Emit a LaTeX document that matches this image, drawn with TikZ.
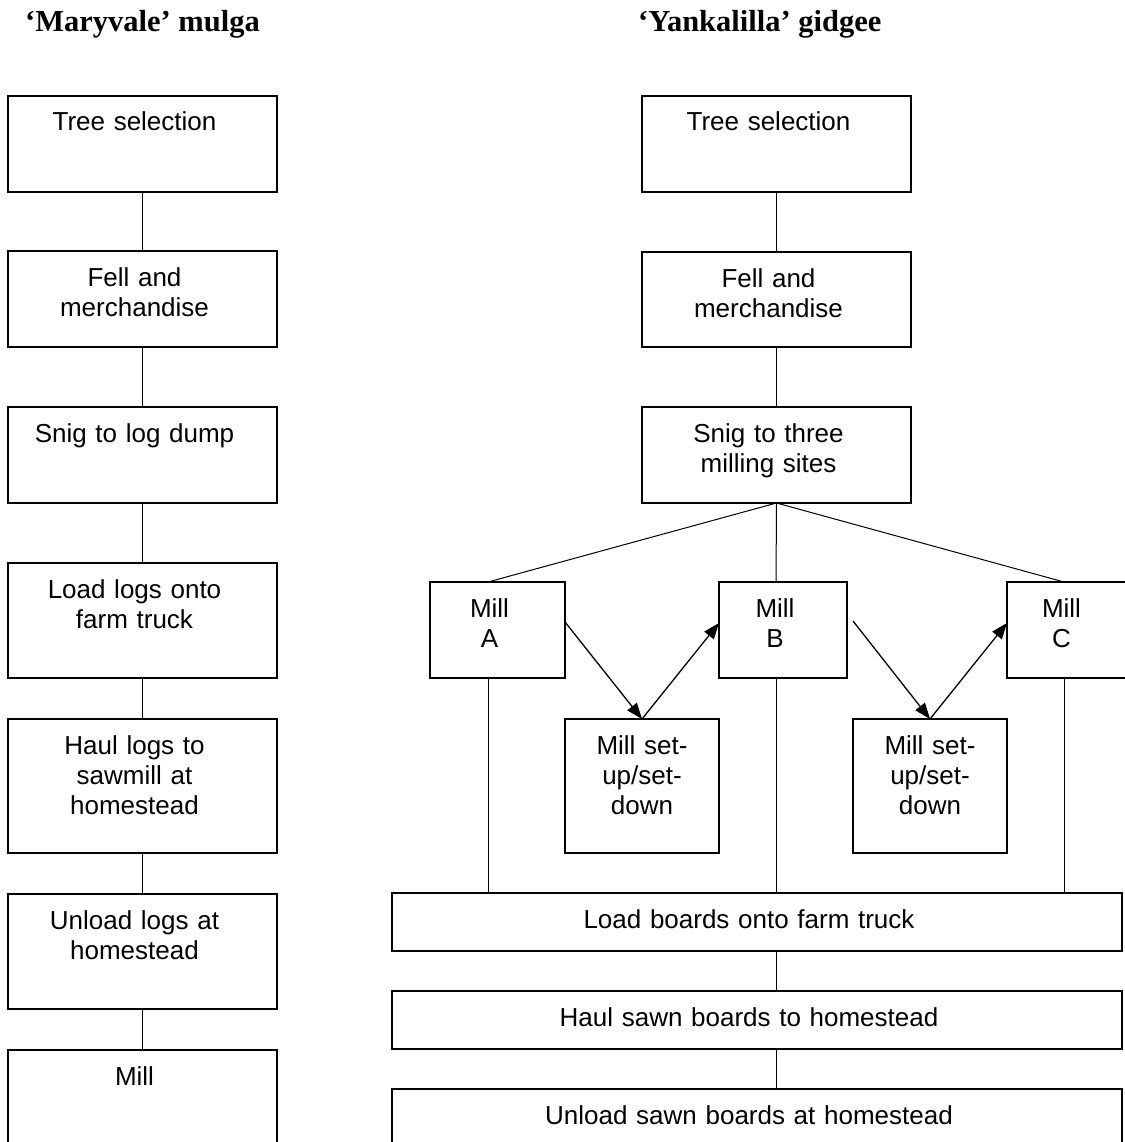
\documentclass[tikz,border=0pt]{standalone}
\usepackage{fontspec}
\setmainfont{Liberation Serif}
\newfontfamily\boxfont{Liberation Sans}
\usetikzlibrary{arrows.meta, positioning}

\begin{document}
\begin{tikzpicture}[x=1pt, y=-1pt,
  stepbox/.style={draw, line width=1.5pt, inner sep=0pt, outer sep=0pt, text height=35pt,
                  font={\boxfont\fontsize{26}{30}\selectfont},
                  execute at begin node={\centering\rightskip=16pt plus 1fil}},
  setbox/.style={stepbox, execute at begin node={\centering}},
  heading/.style={inner sep=0pt, anchor=base west,
                  font={\bfseries\fontsize{30.5}{36}\selectfont}},
  link/.style={line width=1pt},
  arrow/.style={-{Triangle[length=16pt, width=12pt]}, line width=1.3pt}]

  \useasboundingbox (0,0) rectangle (1124,1142);

  \node[heading] (hmul) at (25,32)  {‘Maryvale’ mulga};
  \node[heading] (hgid) at (638,32) {‘Yankalilla’ gidgee};

  % Maryvale
  \node[stepbox, text width=269pt, text depth=61pt, anchor=north west] (ts1) at (8,96) {Tree selection};
  \node[stepbox, text width=269pt, text depth=61pt, below=59pt of ts1] (fm1) {Fell and\\merchandise};
  \node[stepbox, text width=269pt, text depth=61pt, below=60pt of fm1] (sn1) {Snig to log dump};
  \node[stepbox, text width=269pt, text depth=80pt, below=60pt of sn1] (ll1) {Load logs onto\\farm truck};
  \node[stepbox, text width=269pt, text depth=99pt, below=41pt of ll1] (hl1) {Haul logs to\\sawmill at\\homestead};
  \node[stepbox, text width=269pt, text depth=80pt, below=41pt of hl1] (ul1) {Unload logs at\\homestead};
  \node[stepbox, text width=269pt, text depth=80pt, below=41pt of ul1] (ml1) {Mill};

  \draw[link] (ts1) -- (fm1);
  \draw[link] (fm1) -- (sn1);
  \draw[link] (sn1) -- (ll1);
  \draw[link] (ll1) -- (hl1);
  \draw[link] (hl1) -- (ul1);
  \draw[link] (ul1) -- (ml1);

  % Yankalilla
  \node[stepbox, text width=269pt, text depth=61pt, anchor=north west] (ts2) at (642,96) {Tree selection};
  \node[stepbox, text width=269pt, text depth=60pt, below=60pt of ts2] (fm2) {Fell and\\merchandise};
  \node[stepbox, text width=269pt, text depth=61pt, below=60pt of fm2] (sn2) {Snig to three\\milling sites};

  \node[stepbox, text width=135pt, text depth=61pt, anchor=north west] (millA) at (430,582) {Mill\\A};
  \node[stepbox, text width=128pt, text depth=61pt, right=154pt of millA] (millB) {Mill\\B};
  \node[stepbox, text width=125pt, text depth=61pt, right=160pt of millB] (millC) {Mill\\C};

  \node[setbox, text width=154pt, text depth=99pt, anchor=north west] (set1) at (565,719) {Mill set-\\up/set-\\down};
  \node[setbox, text width=154pt, text depth=99pt, anchor=north west] (set2) at (853,719) {Mill set-\\up/set-\\down};

  \node[stepbox, text width=730pt, text depth=23pt, anchor=north west] (load) at (392,893) {Load boards onto farm truck};
  \node[stepbox, text width=730pt, text depth=23pt, below=40pt of load] (haul) {Haul sawn boards to homestead};
  \node[stepbox, text width=730pt, text depth=23pt, below=40pt of haul] (unld) {Unload sawn boards at homestead};

  \draw[link] (ts2) -- (fm2);
  \draw[link] (fm2) -- (sn2);
  \draw[link] (sn2.south) -- ([xshift=-9.5pt]millA.north);
  \draw[link] (sn2.south) -- ([xshift=-7pt]millB.north);
  \draw[link] (sn2.south) -- ([xshift=-5.5pt]millC.north);

  \coordinate (footA) at ([xshift=-9.5pt]millA.south);
  \coordinate (footB) at ([xshift=-7pt]millB.south);
  \coordinate (footC) at ([xshift=-5.5pt]millC.south);
  \draw[link] (footA) -- (footA |- load.north);
  \draw[link] (footB) -- (footB |- load.north);
  \draw[link] (footC) -- (footC |- load.north);

  \draw[arrow] ([yshift=8pt]millA.east) -- (set1.north);
  \draw[arrow] (set1.north) -- ([yshift=7pt]millB.west);
  \draw[arrow] ([xshift=6pt, yshift=9pt]millB.east) -- (set2.north);
  \draw[arrow] (set2.north) -- ([yshift=7pt]millC.west);

  \draw[link] (load.south -| sn2.south) -- (haul.north -| sn2.south);
  \draw[link] (haul.south -| sn2.south) -- (unld.north -| sn2.south);
\end{tikzpicture}
\end{document}
